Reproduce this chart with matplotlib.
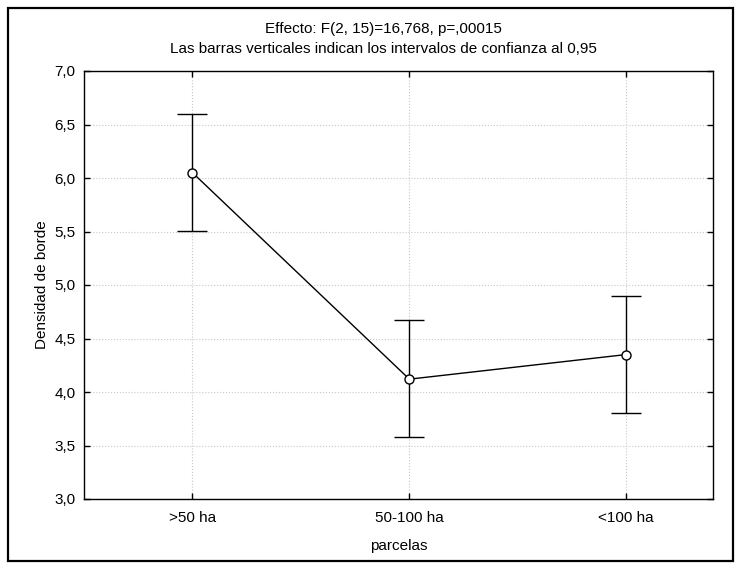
import matplotlib.pyplot as plt
from matplotlib.patches import Rectangle

categories = ['>50 ha', '50-100 ha', '<100 ha']
means = [6.05, 4.12, 4.35]
ci_low = [5.505, 3.575, 3.805]
ci_high = [6.60, 4.67, 4.90]
yticks = [3.0, 3.5, 4.0, 4.5, 5.0, 5.5, 6.0, 6.5, 7.0]

plt.rcParams['font.family'] = ['Liberation Sans', 'DejaVu Sans']
plt.rcParams['font.size'] = 11

W, H = 741, 569
fig = plt.figure(figsize=(W / 100, H / 100), dpi=100)
ax = fig.add_axes([84 / W, 1 - 499 / H, (713 - 84) / W, (499 - 71) / H])

x = list(range(len(categories)))
err_lo = [m - l for m, l in zip(means, ci_low)]
err_hi = [h - m for m, h in zip(means, ci_high)]

ax.errorbar(x, means, yerr=[err_lo, err_hi], color='black', linewidth=1,
            elinewidth=1, capsize=11, capthick=1, marker='o', markersize=6.5,
            markerfacecolor='white', markeredgecolor='black', zorder=3)

ax.set_xlim(-0.5, 2.4)
ax.set_ylim(3.0, 7.0)
ax.set_xticks(x)
ax.set_xticklabels(categories)
ax.set_yticks(yticks)
ax.set_yticklabels([f'{v:.1f}'.replace('.', ',') for v in yticks])
ax.tick_params(direction='in', top=True, right=True, length=4, width=1)
ax.tick_params(axis='x', pad=9)
ax.tick_params(axis='y', pad=6)
ax.grid(True, color='#c8c8c8', linestyle=':', linewidth=0.8)
ax.set_axisbelow(True)
for s in ax.spines.values():
    s.set_linewidth(1)

ax.set_xlabel('parcelas', labelpad=10)
ax.set_ylabel('Densidad de borde', labelpad=4)

fig.text(383 / W, 1 - 33 / H, 'Effecto: F(2, 15)=16,768, p=,00015',
         ha='center', va='baseline')
fig.text(383 / W, 1 - 53 / H,
         'Las barras verticales indican los intervalos de confianza al 0,95',
         ha='center', va='baseline')

fig.patches.append(Rectangle((8 / W, 1 - 561 / H), (733 - 8) / W, (561 - 8) / H,
                             transform=fig.transFigure, fill=False,
                             edgecolor='black', linewidth=1.6))

plt.savefig('out.png', dpi=100)
plt.close()
